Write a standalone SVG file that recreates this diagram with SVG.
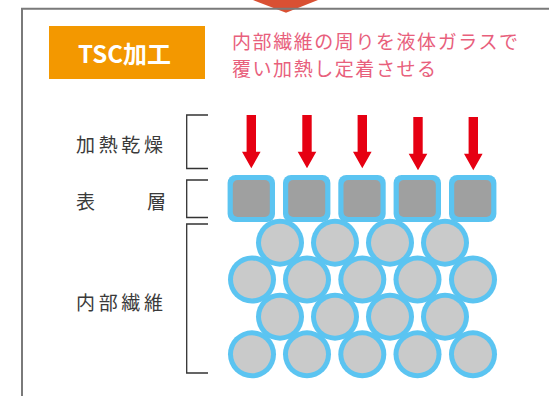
<svg xmlns="http://www.w3.org/2000/svg" width="549" height="396" viewBox="0 0 549 396">
<style>
.lbl{font-family:"Noto Sans CJK JP","Noto Sans",sans-serif;font-size:19px;fill:#3a3a3a;letter-spacing:3px}
.pink{font-family:"Noto Sans CJK JP","Noto Sans",sans-serif;font-size:19px;fill:#E8607C}
.br{fill:none;stroke:#333;stroke-width:1.3}
.ring{fill:#5BC4F1}
.core{fill:#C9CACA}
.sq{fill:#9FA0A0}
.arr{fill:#E60012}
</style>
<defs>
<circle id="rc" r="24"/>
<circle id="cc" r="19"/>
<rect id="sqo" x="-23.7" y="-23.5" width="47.4" height="47" rx="8"/>
<rect id="sqi" x="-18.5" y="-18.5" width="37" height="37" rx="5"/>
<path id="ar" d="M-4.7,0 H4.7 V36.7 H9.3 L0,53.3 L-9.3,36.7 H-4.7 Z"/>
</defs>
<g id="frame">
<polygon points="253,0 318,0 286,12.7" fill="#D95033"/>
<path d="M22,396 V8.7 H549" fill="none" stroke="#7a7a7a" stroke-width="2"/>
</g>
<g id="title">
<rect x="49" y="26" width="156" height="53" fill="#F39800"/>
<text x="124.5" y="63" text-anchor="middle" font-family="'Noto Sans CJK JP','Noto Sans',sans-serif" font-size="24" font-weight="bold" fill="#fff">TSC加工</text>
</g>
<g id="desc">
<text class="pink" x="232" y="49" textLength="286">内部繊維の周りを液体ガラスで</text>
<text class="pink" x="232" y="76" textLength="204">覆い加熱し定着させる</text>
</g>
<g id="labels">
<text class="lbl" x="76" y="152" textLength="90">加熱乾燥</text>
<text class="lbl" x="76" y="209">表</text>
<text class="lbl" x="147" y="209">層</text>
<text class="lbl" x="76" y="310" textLength="90">内部繊維</text>
</g>
<g id="connectors">
<path class="br" d="M208,115 H186.7 V168.5 H208"/>
<path class="br" d="M208,180 H186.7 V217.5 H208"/>
<path class="br" d="M208,224 H186.7 V373 H208"/>
</g>
<g id="arrows" class="arr">
<use href="#ar" x="251.3" y="115"/>
<use href="#ar" x="307" y="115"/>
<use href="#ar" x="362.3" y="115"/>
<use href="#ar" x="418" y="117"/>
<use href="#ar" x="473.3" y="117"/>
</g>
<g id="fibers">
<g class="ring">
<use href="#sqo" x="251.3" y="198.5"/><use href="#sqo" x="306.7" y="198.5"/><use href="#sqo" x="362" y="198.5"/><use href="#sqo" x="417.3" y="198.5"/><use href="#sqo" x="472.7" y="198.5"/>
<use href="#rc" x="280" y="242.7"/><use href="#rc" x="335" y="242.7"/><use href="#rc" x="390" y="242.7"/><use href="#rc" x="445" y="242.7"/>
<use href="#rc" x="252" y="279.5"/><use href="#rc" x="307" y="279.5"/><use href="#rc" x="362.3" y="279.5"/><use href="#rc" x="417.5" y="279.5"/><use href="#rc" x="473" y="279.5"/>
<use href="#rc" x="280" y="316.7"/><use href="#rc" x="335" y="316.7"/><use href="#rc" x="390" y="316.7"/><use href="#rc" x="445" y="316.7"/>
<use href="#rc" x="252" y="354.3"/><use href="#rc" x="307" y="354.3"/><use href="#rc" x="362.3" y="354.3"/><use href="#rc" x="417.5" y="354.3"/><use href="#rc" x="473" y="354.3"/>
</g>
<g class="sq">
<use href="#sqi" x="251.3" y="198.5"/><use href="#sqi" x="306.7" y="198.5"/><use href="#sqi" x="362" y="198.5"/><use href="#sqi" x="417.3" y="198.5"/><use href="#sqi" x="472.7" y="198.5"/>
</g>
<g class="core">
<use href="#cc" x="280" y="242.7"/><use href="#cc" x="335" y="242.7"/><use href="#cc" x="390" y="242.7"/><use href="#cc" x="445" y="242.7"/>
<use href="#cc" x="252" y="279.5"/><use href="#cc" x="307" y="279.5"/><use href="#cc" x="362.3" y="279.5"/><use href="#cc" x="417.5" y="279.5"/><use href="#cc" x="473" y="279.5"/>
<use href="#cc" x="280" y="316.7"/><use href="#cc" x="335" y="316.7"/><use href="#cc" x="390" y="316.7"/><use href="#cc" x="445" y="316.7"/>
<use href="#cc" x="252" y="354.3"/><use href="#cc" x="307" y="354.3"/><use href="#cc" x="362.3" y="354.3"/><use href="#cc" x="417.5" y="354.3"/><use href="#cc" x="473" y="354.3"/>
</g>
</g>
</svg>
